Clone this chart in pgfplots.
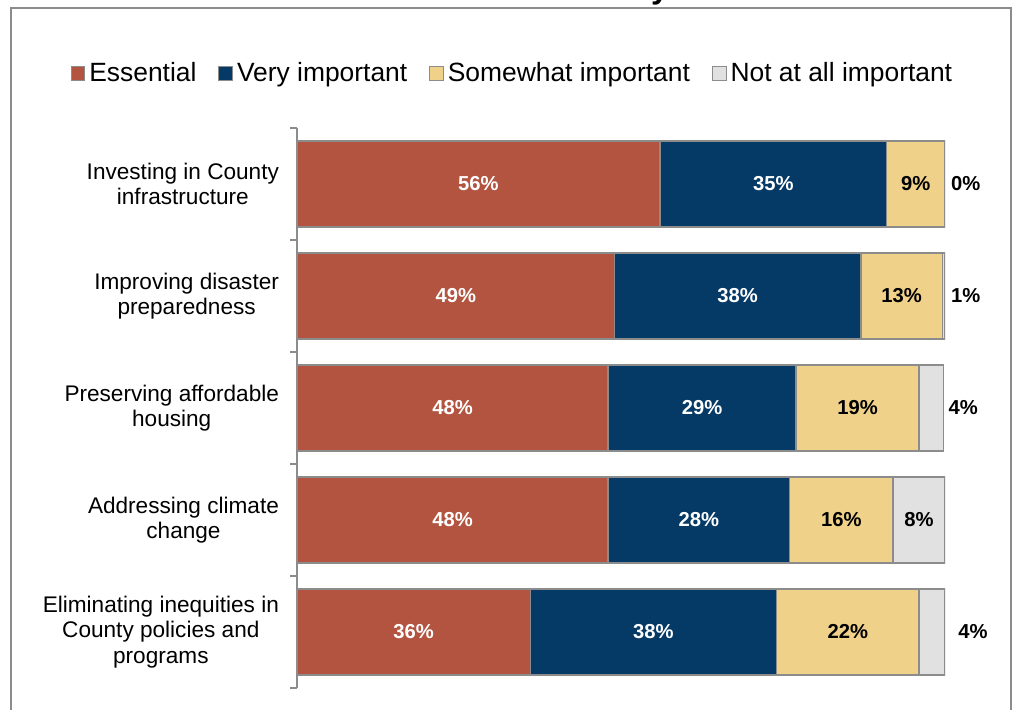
\documentclass[border=0pt]{standalone}
\usepackage{fontspec}
\setmainfont{Liberation Sans}
\usepackage{pgfplots}
\pgfplotsset{compat=1.18}
\usepackage{pgfplotstable}

\definecolor{cEss}{HTML}{B35441}
\definecolor{cVery}{HTML}{053A66}
\definecolor{cSome}{HTML}{EFD18A}
\definecolor{cNot}{HTML}{E1E1E1}
\definecolor{cEdge}{HTML}{8C8C8C}

\pgfplotstableread{
y ess very some not
0 56 35 9 0
1 49 38 12.6 0.4
2 48 29 19 3.8
3 48 28 16 8
4 36 38 22 4
}\datatable

\pgfplotstableread{
x y label
28 0 56
73.5 0 35
24.5 1 49
68 1 38
24 2 48
62.5 2 29
24 3 48
62 3 28
18 4 36
55 4 38
}\whitelab

\pgfplotstableread{
x y label
95.5 0 9
103.2 0 0
93.3 1 13
103.2 1 1
86.5 2 19
102.8 2 4
84 3 16
96 3 8
85 4 22
104.3 4 4
}\blacklab

\begin{document}
\begin{tikzpicture}[x=1pt,y=1pt]
\useasboundingbox (0,0) rectangle (506.5,355);
\draw[cEdge, line width=1pt] (5.25,-20) rectangle (505.5,351);
\node[anchor=base, inner sep=0pt, font=\bfseries\fontsize{16}{18}\selectfont] at (330,355.5) {y};

\begin{axis}[
  at={(148.5pt,11pt)}, anchor=south west,
  scale only axis, width=324pt, height=280pt,
  xmin=0, xmax=100, ymin=-0.5, ymax=4.5,
  y dir=reverse,
  xbar stacked, bar width=43pt,
  axis x line=none, axis y line*=left,
  y axis line style={-, cEdge, line width=1pt},
  ytick={0,1,2,3,4},
  yticklabels={{Investing in County\\infrastructure},{Improving disaster\\preparedness},{Preserving affordable\\housing},{Addressing climate\\change},{Eliminating inequities in\\County policies and\\programs}},
  yticklabel style={align=center, xshift=-5.5pt, font=\fontsize{11.3}{12.8}\selectfont, text=black},
  minor ytick={-0.5,0.5,1.5,2.5,3.5,4.5},
  major tick length=0pt, minor tick length=3.5pt,
  tick align=outside,
  minor tick style={cEdge, line width=1pt},
  legend columns=4,
  legend style={at={(0.334,1.097)}, anchor=center, draw=none, fill=none,
    font=\fontsize{13.2}{15}\selectfont,
    /tikz/every even column/.append style={column sep=9pt}},
  legend image code/.code={\draw[#1, draw=cEdge, line width=0.5pt] (0pt,-3.4pt) rectangle (6.8pt,3.4pt);},
]
\addplot[fill=cEss, draw=cEdge, line width=0.75pt] table[x=ess, y=y] {\datatable};
\addplot[fill=cVery, draw=cEdge, line width=0.75pt] table[x=very, y=y] {\datatable};
\addplot[fill=cSome, draw=cEdge, line width=0.75pt] table[x=some, y=y] {\datatable};
\addplot[fill=cNot, draw=cEdge, line width=0.75pt] table[x=not, y=y] {\datatable};
\legend{Essential, Very important, Somewhat important, Not at all important}
\end{axis}

\begin{axis}[
  at={(148.5pt,11pt)}, anchor=south west,
  scale only axis, width=324pt, height=280pt,
  xmin=0, xmax=100, ymin=-0.5, ymax=4.5,
  y dir=reverse, hide axis, clip=false,
]
\addplot[draw=none, mark=none, nodes near coords={\pgfplotspointmeta\%}, point meta=explicit symbolic,
  every node near coord/.append style={anchor=center, text=white, font=\bfseries\fontsize{10.1}{12}\selectfont}]
  table[x=x, y=y, meta=label] {\whitelab};
\addplot[draw=none, mark=none, nodes near coords={\pgfplotspointmeta\%}, point meta=explicit symbolic,
  every node near coord/.append style={anchor=center, text=black, font=\bfseries\fontsize{10.1}{12}\selectfont}]
  table[x=x, y=y, meta=label] {\blacklab};
\end{axis}
\end{tikzpicture}
\end{document}
